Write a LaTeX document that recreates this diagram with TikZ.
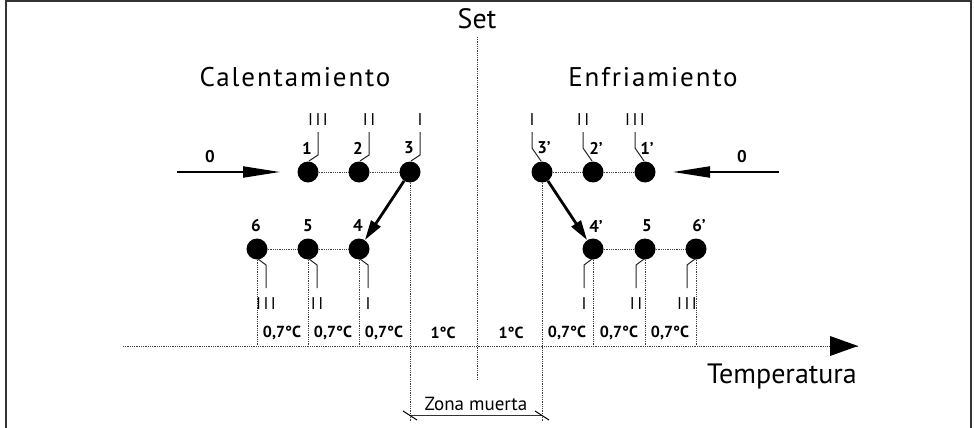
\documentclass[tikz,border=0pt]{standalone}
\usepackage{fontspec}
\setmainfont{PT Sans}
\newfontfamily\titlefont[LetterSpace=7]{PT Sans}
\usetikzlibrary{arrows.meta,calc}
\begin{document}
\begin{tikzpicture}[x=1pt,y=-1pt,
 dot/.style={circle,fill=black,inner sep=0pt,minimum size=21pt},
 dotline/.style={draw=black!75,line width=0.7pt,dash pattern=on 1pt off 0.8pt},
 sw/.style={draw=black!85,line width=1pt},
 roman/.style={font=\fontsize{17}{19}\selectfont,inner sep=0pt},
 num/.style={font=\bfseries\fontsize{17}{19}\selectfont,inner sep=0pt},
 deg/.style={font=\bfseries\fontsize{16}{18}\selectfont,inner sep=0pt},
 big/.style={font=\fontsize{28}{30}\selectfont,inner sep=0pt},
 title/.style={font=\titlefont\fontsize{27}{30}\selectfont,inner sep=0pt},
 thickarr/.style={line width=2.8pt,-{Triangle[length=20pt,width=11pt]}},
 zeroarr/.style={line width=2pt,-{Triangle[length=37pt,width=11pt]}}
]
\useasboundingbox (0,0) rectangle (974,428);
% frame
\draw[line width=1.5pt,black!80] (6,430) -- (6,1) -- (971,1) -- (971,430);

% coordinates
\coordinate (ax0) at (123,346);
\coordinate (ax1) at (858,346);
\coordinate (s0) at (477,37);
\coordinate (s1) at (477,380);
\coordinate (d0) at (410,422);
\coordinate (d1) at (542,422);
\coordinate (dz0) at (410,415);
\coordinate (dz1) at (542,415);
\coordinate (zl0) at (177,172);
\coordinate (zl1) at (280,172);
\coordinate (zr0) at (779,172);
\coordinate (zr1) at (673,172);

% dots
\node[dot] (c1) at (308,172) {};
\node[dot] (c2) at (359,172) {};
\node[dot] (c3) at (410,172) {};
\node[dot] (c3p) at (542,172) {};
\node[dot] (c2p) at (593,172) {};
\node[dot] (c1p) at (645,172) {};
\node[dot] (c6) at (257,249) {};
\node[dot] (c5) at (308,249) {};
\node[dot] (c4) at (359,249) {};
\node[dot] (c4p) at (593,249) {};
\node[dot] (c5r) at (645,249) {};
\node[dot] (c6p) at (696,249) {};

% dotted lines
\draw[dotline] (c1) -- (c2) -- (c3);
\draw[dotline] (c3p) -- (c2p) -- (c1p);
\draw[dotline] (c6) -- (c5) -- (c4);
\draw[dotline] (c4p) -- (c5r) -- (c6p);
\draw[dotline] (c6.south) -- (c6 |- ax0);
\draw[dotline] (c5.south) -- (c5 |- ax0);
\draw[dotline] (c4.south) -- (c4 |- ax0);
\draw[dotline] (c4p.south) -- (c4p |- ax0);
\draw[dotline] (c5r.south) -- (c5r |- ax0);
\draw[dotline] (c6p.south) -- (c6p |- ax0);
\draw[dotline] (c3.south) -- (d0);
\draw[dotline] (c3p.south) -- (d1);
\draw[dotline] (s0) -- (s1);
\draw[dotline] (ax0) -- (ax1);
\fill (ax1) -- ++(-28,-10) -- ++(0,20) -- cycle;

% switches
\foreach \n in {c1,c2,c3}{
  \draw[sw] (\n) ++(1,-11) -- ++(9,-6) -- ++(0,-23);
}
\foreach \n in {c3p,c2p,c1p}{
  \draw[sw] (\n) ++(-1,-11) -- ++(-9,-13) -- ++(0,-16);
}
\foreach \n in {c6,c5,c4}{
  \draw[sw] (\n) ++(1,10) -- ++(8,6) -- ++(0,23);
}
\foreach \n in {c4p,c5r,c6p}{
  \draw[sw] (\n) ++(-1,10) -- ++(-8,6) -- ++(0,23);
}

% roman numerals
\node[roman] (r1) at ($(c1)+(10,-52)$) {I\kern2.5pt I\kern2.5pt I};
\node[roman] (r2) at ($(c2)+(10,-52)$) {I\kern2.5pt I};
\node[roman] (r3) at ($(c3)+(10,-52)$) {I};
\node[roman] (r3p) at ($(c3p)+(-10,-52)$) {I};
\node[roman] (r2p) at ($(c2p)+(-10,-52)$) {I\kern2.5pt I};
\node[roman] (r1p) at ($(c1p)+(-10,-52)$) {I\kern2.5pt I\kern2.5pt I};
\node[roman] (r6) at ($(c6)+(9,55)$) {I\kern2.5pt I\kern2.5pt I};
\node[roman] (r5) at ($(c5)+(9,55)$) {I\kern2.5pt I};
\node[roman] (r4) at ($(c4)+(9,55)$) {I};
\node[roman] (r4p) at ($(c4p)+(-9,55)$) {I};
\node[roman] (r5r) at ($(c5r)+(-9,55)$) {I\kern2.5pt I};
\node[roman] (r6p) at ($(c6p)+(-9,55)$) {I\kern2.5pt I\kern2.5pt I};

% numbers
\node[num] (n1) at (307,148) {1};
\node[num] (n2) at (358,148) {2};
\node[num] (n3) at (409,148) {3};
\node[num] (n3p) at (544,148) {3’};
\node[num] (n2p) at (596,148) {2’};
\node[num] (n1p) at (647,148) {1’};
\node[num] (n6) at (256,226) {6};
\node[num] (n5) at (308,226) {5};
\node[num] (n4) at (358,226) {4};
\node[num] (n4p) at (596,226) {4’};
\node[num] (n5r) at (647,226) {5};
\node[num] (n6p) at (699,226) {6’};

% degree labels
\node[deg] at (282,333) {0,7°C};
\node[deg] at (333,333) {0,7°C};
\node[deg] at (384,333) {0,7°C};
\node[deg] at (443,333) {1°C};
\node[deg] at (511,333) {1°C};
\node[deg] at (567,333) {0,7°C};
\node[deg] at (619,333) {0,7°C};
\node[deg] at (670,333) {0,7°C};

% thick arrows
\draw[thickarr] (c3) -- (c4);
\draw[thickarr] (c3p) -- (c4p);
\draw[zeroarr] (zl0) -- (zl1);
\draw[zeroarr] (zr0) -- (zr1);
\node[num] at (210,157) {0};
\node[num] at (742,157) {0};

% big labels
\node[big] at (477,19) {Set};
\node[title] at (295,77) {Calentamiento};
\node[title] at (653,77) {Enfriamiento};
\node[big] at (782,376) {Temperatura};

% zona muerta
\draw[line width=1pt,black!80] (dz0) -- (dz1);
\draw[line width=1pt] ($(dz0)+(-7,-4)$) -- ($(dz0)+(7,5)$);
\draw[line width=1pt] ($(dz1)+(-7,-4)$) -- ($(dz1)+(7,5)$);
\node[font=\fontsize{19}{21}\selectfont,inner sep=0pt] at (476,404) {Zona muerta};
\end{tikzpicture}
\end{document}
